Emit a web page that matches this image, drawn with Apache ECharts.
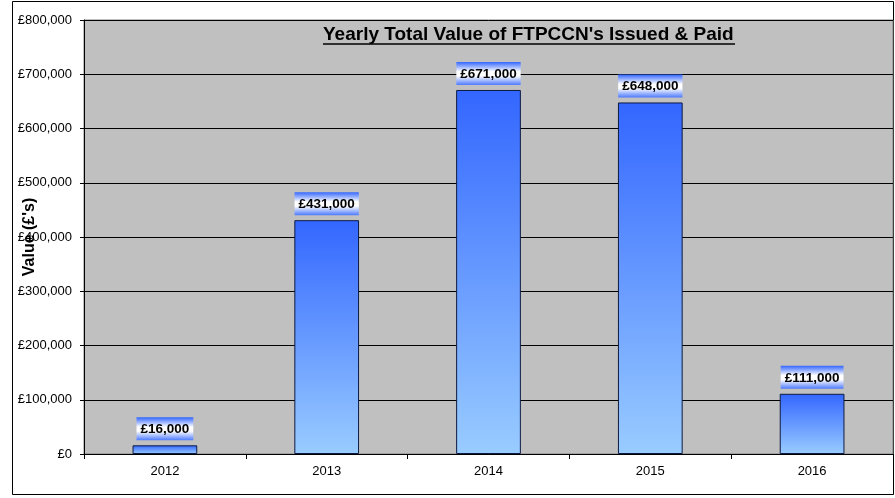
<!DOCTYPE html>
<html>
<head>
<meta charset="utf-8">
<script src="https://cdn.jsdelivr.net/npm/echarts@6/dist/echarts.min.js"></script>
<style>
  html, body { margin: 0; padding: 0; background: #fff; }
  #chart { width: 895px; height: 498px; }
</style>
</head>
<body>
<div id="chart"></div>
<script>
var years = ['2012', '2013', '2014', '2015', '2016'];
var totals = [16000, 431000, 671000, 648000, 111000];
var yTicks = { min: 0, max: 800000, step: 100000 };

function money(v) {
  return '£' + Number(v).toLocaleString('en-GB');
}

var chart = echarts.init(document.getElementById('chart'));

var option = {
  animation: false,
  textStyle: { fontFamily: 'Liberation Sans, Arial, sans-serif' },
  grid: {
    left: 84, top: 20, right: 2, bottom: 44,
    containLabel: false, outerBoundsMode: 'none',
    show: true, backgroundColor: '#c0c0c0', borderColor: '#808080', borderWidth: 1
  },
  graphic: [
    // outer chart border
    { type: 'rect', shape: { x: 12.5, y: 1.5, width: 881, height: 493 }, style: { fill: 'none', stroke: '#000', lineWidth: 1 }, z: -1 },
    { type: 'text', left: 323, top: 25, style: { text: "Yearly Total Value of FTPCCN's Issued & Paid", font: 'bold 19px Liberation Sans, Arial, sans-serif', fill: '#000' }, z: 10 },
    // underline of title
    { type: 'line', shape: { x1: 323, y1: 44, x2: 735, y2: 44 }, style: { stroke: '#000', lineWidth: 1.5 }, z: 10 }
  ],
  xAxis: {
    type: 'category',
    data: years,
    axisLine: { lineStyle: { color: '#000', width: 1 } },
    axisTick: { show: true, alignWithLabel: false, length: 5, lineStyle: { color: '#000' } },
    axisLabel: { color: '#000', fontSize: 13, margin: 11 }
  },
  yAxis: {
    type: 'value',
    min: yTicks.min,
    max: yTicks.max,
    interval: yTicks.step,
    name: "Value (£'s)",
    nameLocation: 'middle',
    nameGap: 46,
    nameMoveOverlap: false,
    nameRotate: 90,
    nameTextStyle: { color: '#000', fontSize: 16, fontWeight: 'bold' },
    axisLine: { show: true, lineStyle: { color: '#000' } },
    axisTick: { show: true, length: 4, lineStyle: { color: '#000' } },
    axisLabel: { color: '#000', fontSize: 13, margin: 12, formatter: money },
    splitLine: { show: true, lineStyle: { color: '#000', width: 1 } }
  },
  series: [
    {
      type: 'bar',
      data: totals,
      barWidth: '40%',
      itemStyle: {
        color: new echarts.graphic.LinearGradient(0, 0, 0, 1, [
          { offset: 0, color: '#3366ff' },
          { offset: 1, color: '#99ccff' }
        ]),
        borderColor: '#0d1a40',
        borderWidth: 1
      },
      label: {
        show: true,
        position: 'top',
        distance: 5,
        formatter: function (p) { return money(p.value); },
        color: '#000',
        fontSize: 13.5,
        fontWeight: 'bold',
        padding: [5, 4, 4, 4],
        backgroundColor: new echarts.graphic.LinearGradient(0, 0, 0, 1, [
          { offset: 0, color: '#3366ff' },
          { offset: 0.42, color: '#ffffff' },
          { offset: 0.6, color: '#ffffff' },
          { offset: 1, color: '#4d7aff' }
        ])
      }
    }
  ]
};

chart.setOption(option);
window.onresize = function () {
  chart.resize();
};
</script>
</body>
</html>
